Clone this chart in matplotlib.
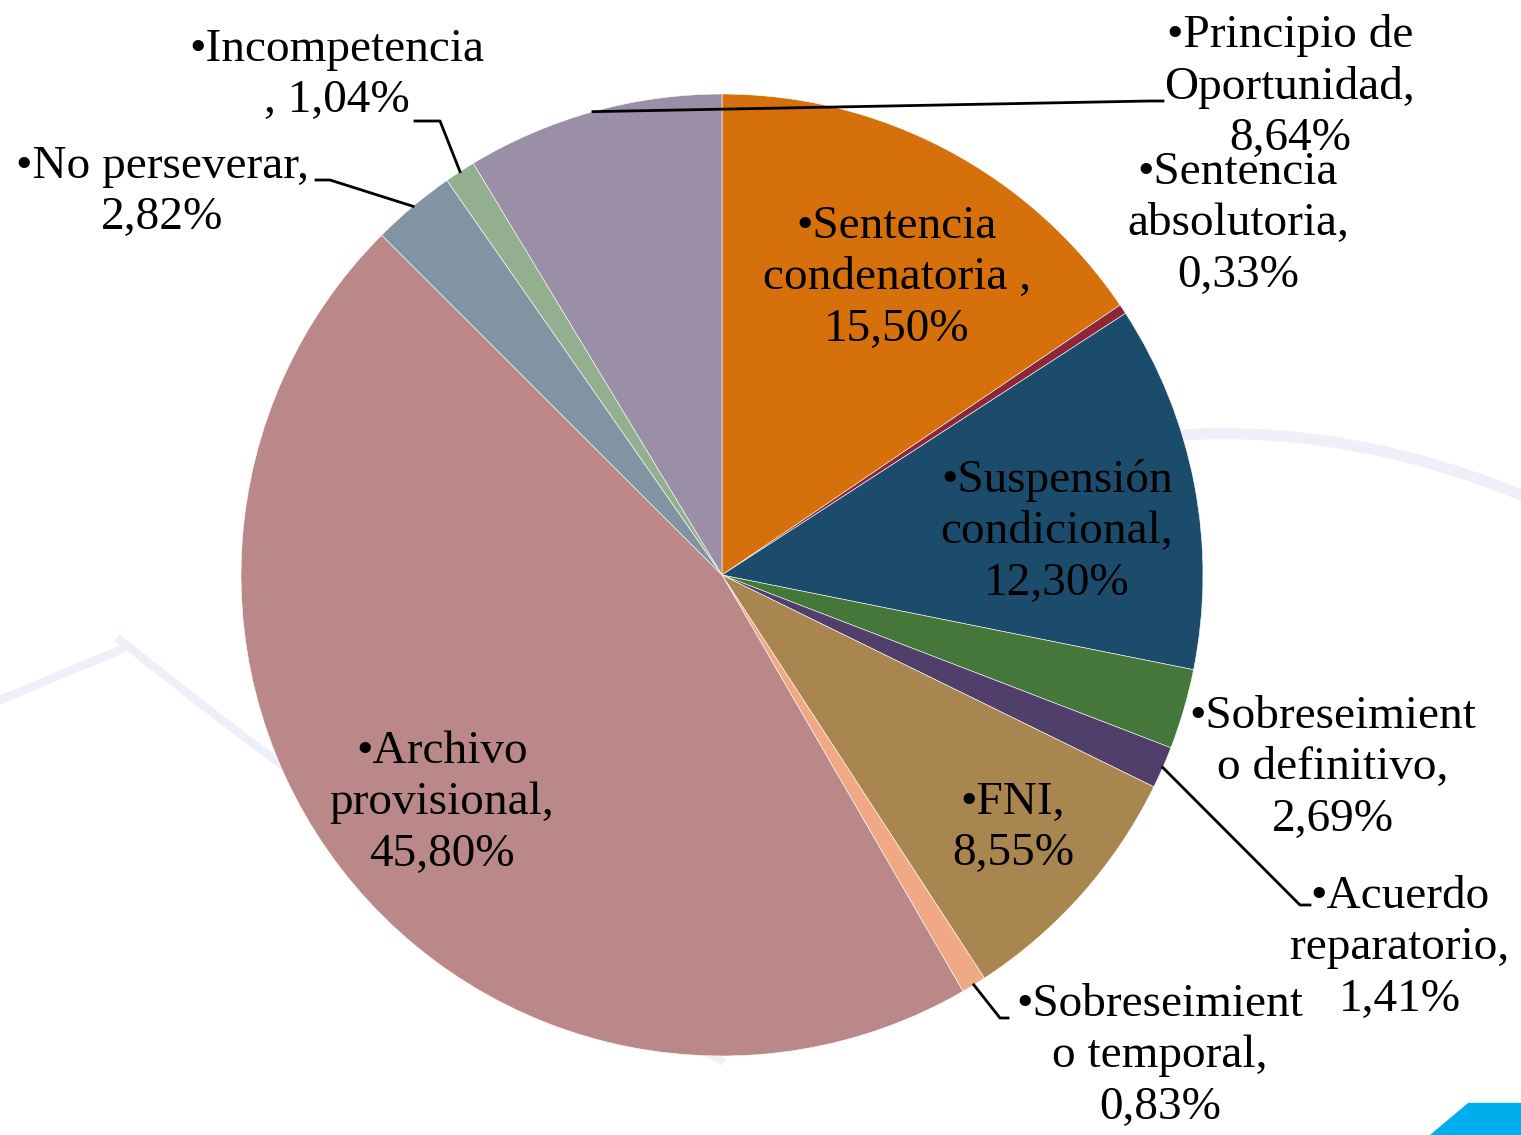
import numpy as np
import matplotlib.pyplot as plt
from matplotlib.patches import Polygon

# Data (clockwise from 12 o'clock)
names = ['•Sentencia\ncondenatoria ,', '•Sentencia\nabsolutoria,', '•Suspensión\ncondicional,',
         '•Sobreseimient\no definitivo,', '•Acuerdo\nreparatorio,', '•FNI,',
         '•Sobreseimient\no temporal,', '•Archivo\nprovisional,', '•No perseverar,',
         '•Incompetencia\n,', '•Principio de\nOportunidad,']
values = [15.50, 0.33, 12.30, 2.69, 1.41, 8.55, 0.83, 45.80, 2.82, 1.04, 8.64]
colors = ['#D5700A', '#8E2637', '#1B4C6C', '#45763A', '#513F6B', '#A9854F',
          '#F1A985', '#BB888A', '#8194A4', '#94AF90', '#9A8FA6']

# Layout (pixel coords, y from top)
W, H = 1521, 1135
cx, cy, rad = 722, 575, 481
label_pos = [(897, 278), (1238, 224), (1057, 532), (1333, 768), (1400, 948), (1013, 828),
             (1160, 1056), (442, 803), (162, 192), (337, 75), (1290, 87)]
# leader lines: elbow, end (None = no leader)
leaders = [None, None, None, None, ((1300, 905), (1310, 905)), None,
           ((1000, 1018), (1008, 1018)), None, ((330, 180), (316, 180)),
           ((440, 121), (415, 121)), ((1150, 101), (1163, 101))]

fig = plt.figure(figsize=(W / 100, H / 100), dpi=100)
ax = fig.add_axes([0, 0, 1, 1])

# faint watermark arcs
t = np.linspace(0, 1, 50)
wm = '#EFEFF9'
ax.plot(120 + 600 * t, H - (640 + 480 * t - 60 * t ** 2), color=wm, lw=6, zorder=0)
ax.plot(0 + 120 * t, H - (700 - 50 * t), color=wm, lw=6, zorder=0)
ax.plot(1180 + 341 * t, H - (435 - 20 * t + 80 * t ** 2), color=wm, lw=8, zorder=0)
ax.add_patch(Polygon([(1430, 0), (1521, 0), (1521, 32), (1468, 32)], closed=True,
                     color='#00AEEF', zorder=0))

wedges, _ = ax.pie(values, colors=colors, startangle=90, counterclock=False,
                   center=(cx, H - cy), radius=rad, frame=True,
                   wedgeprops=dict(edgecolor='white', linewidth=0.4))
ax.set_xlim(0, W)
ax.set_ylim(0, H)
ax.set_aspect('equal')
ax.axis('off')

for name, v, w, (lx, ly), ld in zip(names, values, wedges, label_pos, leaders):
    pct = f'{v:.2f}%'.replace('.', ',')
    if name.endswith('\n,'):
        txt = name + ' ' + pct
    else:
        txt = name + '\n' + pct
    ax.text(lx, H - ly, txt, ha='center', va='center', fontsize=34,
            family='Liberation Serif', linespacing=1.27, color='black', zorder=5)
    if ld is not None:
        ang = np.deg2rad((w.theta1 + w.theta2) / 2)
        sx = cx + rad * np.cos(ang)
        sy = (H - cy) + rad * np.sin(ang)
        (ex1, ey1), (ex2, ey2) = ld
        ax.plot([sx, ex1, ex2], [sy, H - ey1, H - ey2], color='black', lw=2, zorder=4)

fig.savefig('out.png', dpi=100, facecolor='white')
